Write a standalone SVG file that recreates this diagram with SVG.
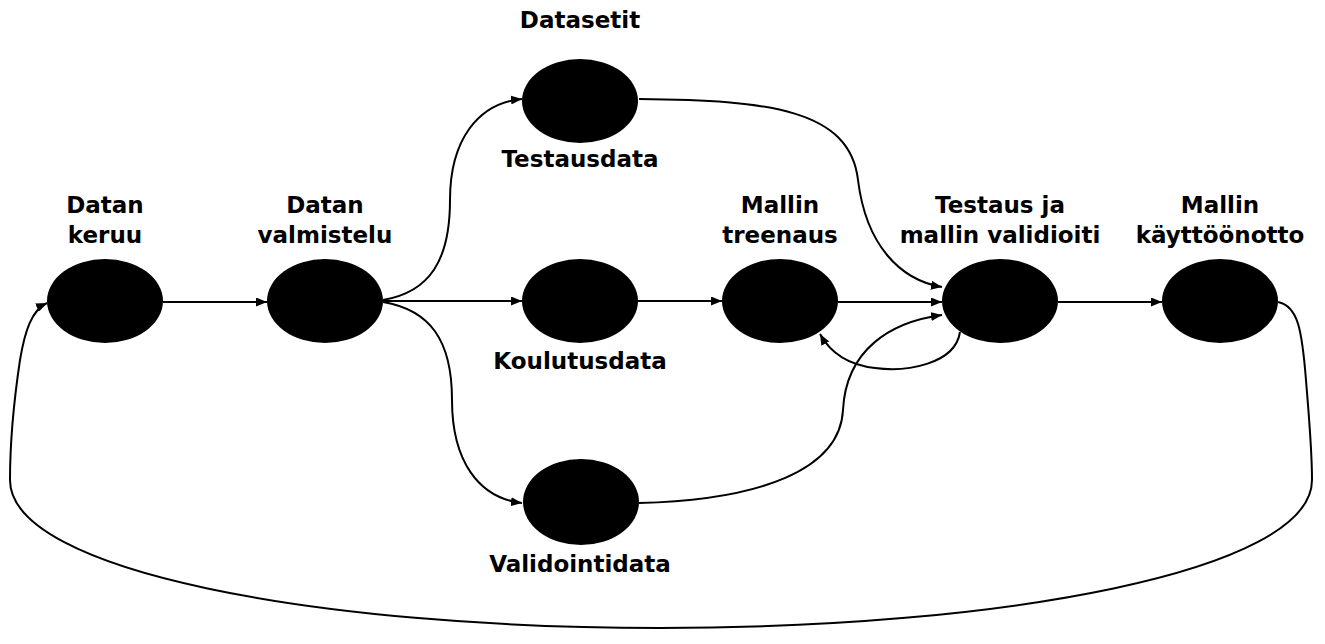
<svg xmlns="http://www.w3.org/2000/svg" width="1325" height="644" viewBox="0 0 1325 644">
<style>
.node{fill:#000;}
.lbl{font-family:"DejaVu Sans",Verdana,sans-serif;font-weight:bold;font-size:23px;fill:#000;text-anchor:middle;}
.edge{fill:none;stroke:#000;stroke-width:2;}
</style>
<defs>
<marker id="arr" viewBox="0 0 11 9" refX="11" refY="4.5" markerWidth="11" markerHeight="9" markerUnits="userSpaceOnUse" orient="auto">
<path d="M0,0 L11,4.5 L0,9 Z" fill="#000"/>
</marker>
</defs>
<rect width="1325" height="644" fill="#fff"/>
<g id="connectors">
<path class="edge" d="M163,302 L267,302" marker-end="url(#arr)"/>
<path class="edge" d="M383,301 L522,301" marker-end="url(#arr)"/>
<path class="edge" d="M383,300 C430,292 450,260 450,200 C450,140 478,103 522,99" marker-end="url(#arr)"/>
<path class="edge" d="M383,302 C430,310 452,340 452,400 C452,460 478,498 522,503" marker-end="url(#arr)"/>
<path class="edge" d="M638,301 L722,301" marker-end="url(#arr)"/>
<path class="edge" d="M838,302 L942,302" marker-end="url(#arr)"/>
<path class="edge" d="M1058,302 L1162,302" marker-end="url(#arr)"/>
<path class="edge" d="M639,99 C770,100 850,110 858,180 C866,245 900,280 942,287" marker-end="url(#arr)"/>
<path class="edge" d="M639,503 C760,500 840,470 843,410 C846,350 890,322 942,315" marker-end="url(#arr)"/>
<path class="edge" d="M960,332 C955,365 905,372 875,368 C848,365 830,352 820,334" marker-end="url(#arr)"/>
<path class="edge" d="M1278,302 C1298,306 1302,330 1306,380 C1310,430 1312,450 1312,480 C1312,572 1000,628 660,628 C320,628 10,572 10,480 C10,440 14,400 20,360 C25,330 32,310 47,303" marker-end="url(#arr)"/>
</g>
<g id="datan-keruu">
<ellipse class="node" cx="105" cy="301" rx="58" ry="42"/>
<text class="lbl" x="105" y="213">Datan</text>
<text class="lbl" x="105" y="243">keruu</text>
</g>
<g id="datan-valmistelu">
<ellipse class="node" cx="325" cy="301" rx="58" ry="42"/>
<text class="lbl" x="325" y="213">Datan</text>
<text class="lbl" x="325" y="243">valmistelu</text>
</g>
<g id="testausdata">
<ellipse class="node" cx="580" cy="101" rx="58" ry="42"/>
<text class="lbl" x="580" y="28">Datasetit</text>
<text class="lbl" x="580" y="167">Testausdata</text>
</g>
<g id="koulutusdata">
<ellipse class="node" cx="580" cy="301" rx="58" ry="42"/>
<text class="lbl" x="580" y="369">Koulutusdata</text>
</g>
<g id="validointidata">
<ellipse class="node" cx="581" cy="502" rx="58" ry="43"/>
<text class="lbl" x="580" y="572">Validointidata</text>
</g>
<g id="mallin-treenaus">
<ellipse class="node" cx="780" cy="301" rx="58" ry="42"/>
<text class="lbl" x="780" y="213">Mallin</text>
<text class="lbl" x="780" y="243">treenaus</text>
</g>
<g id="testaus-validiointi">
<ellipse class="node" cx="1000" cy="301" rx="58" ry="42"/>
<text class="lbl" x="1000" y="213">Testaus ja</text>
<text class="lbl" x="1000" y="243">mallin validioiti</text>
</g>
<g id="mallin-kayttoonotto">
<ellipse class="node" cx="1220" cy="301" rx="58" ry="42"/>
<text class="lbl" x="1220" y="213">Mallin</text>
<text class="lbl" x="1220" y="243">käyttöönotto</text>
</g>
</svg>
